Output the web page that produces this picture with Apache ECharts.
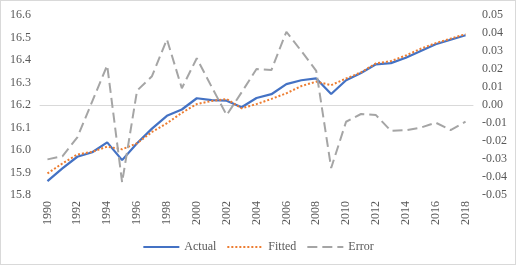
<!DOCTYPE html>
<html>
<head>
<meta charset="utf-8">
<script src="https://cdn.jsdelivr.net/npm/echarts@6/dist/echarts.min.js"></script>
<style>
  html, body { margin: 0; padding: 0; background: #fff; }
  #chart { width: 514px; height: 263px; border: 1px solid #d9d9d9; }
</style>
</head>
<body>
<div id="chart"></div>
<script>
// 年份
const years = []
for (let y = 1990; y <= 2018; y++) years.push(String(y))

// 实际值
const actual = [15.862, 15.918, 15.970, 15.990, 16.034, 15.955, 16.030, 16.095, 16.152, 16.180,
  16.230, 16.222, 16.219, 16.190, 16.231, 16.248, 16.293, 16.310, 16.318, 16.249,
  16.310, 16.342, 16.381, 16.386, 16.410, 16.440, 16.470, 16.490, 16.510]
// 拟合值
const fitted = [15.896, 15.940, 15.980, 15.992, 16.015, 16.003, 16.030, 16.080, 16.119, 16.165,
  16.204, 16.218, 16.227, 16.185, 16.204, 16.227, 16.252, 16.284, 16.304, 16.288,
  16.318, 16.345, 16.385, 16.395, 16.420, 16.450, 16.475, 16.495, 16.515]
// 误差
const errors = [-0.0302, -0.0285, -0.018, 0.002, 0.022, -0.043, 0.008, 0.016, 0.0365, 0.0093,
  0.026, 0.010, -0.0056, 0.007, 0.020, 0.0194, 0.0407, 0.030, 0.019, -0.035,
  -0.0093, -0.005, -0.0056, -0.0143, -0.014, -0.0126, -0.0098, -0.0139, -0.0093]

const font = 'Liberation Serif'
const labelColor = '#595959'

const myChart = echarts.init(document.getElementById('chart'))
myChart.setOption({
  animation: false,
  textStyle: { fontFamily: font },
  legend: {
    bottom: 6,
    left: 'center',
    itemWidth: 36,
    itemHeight: 10,
    itemGap: 10,
    itemStyle: { opacity: 0 }, // 不显示圆点
    textStyle: { color: labelColor, fontSize: 12, fontFamily: font },
    data: ['Actual', 'Fitted', 'Error']
  },
  grid: { left: 39, right: 42, top: 14, bottom: 69 },
  xAxis: {
    type: 'category',
    data: years,
    boundaryGap: true,
    axisLine: { lineStyle: { color: '#d9d9d9' } },
    axisTick: { show: false },
    axisLabel: {
      rotate: 90,
      interval: 1,
      color: labelColor,
      fontSize: 12,
      fontFamily: font,
      margin: 6
    }
  },
  yAxis: [{
    type: 'value',
    min: 15.8,
    max: 16.6,
    interval: 0.1,
    splitLine: { show: false },
    axisLine: { show: false },
    axisTick: { show: false },
    axisLabel: {
      color: labelColor, fontSize: 12, fontFamily: font, margin: 9,
      formatter: v => v.toFixed(1)
    }
  }, {
    type: 'value',
    min: -0.05,
    max: 0.05,
    interval: 0.01,
    splitLine: { show: false },
    axisLine: { show: false },
    axisTick: { show: false },
    axisLabel: {
      color: labelColor, fontSize: 12, fontFamily: font, margin: 9,
      formatter: v => v.toFixed(2)
    }
  }],
  series: [{
    name: 'Actual',
    type: 'line',
    data: actual,
    symbol: 'none',
    itemStyle: { color: '#4472C4' },
    lineStyle: { color: '#4472C4', width: 2.25 }
  }, {
    name: 'Fitted',
    type: 'line',
    data: fitted,
    symbol: 'none',
    itemStyle: { color: '#ED7D31' },
    lineStyle: { color: '#ED7D31', width: 2, type: [2, 2] }
  }, {
    name: 'Error',
    type: 'line',
    yAxisIndex: 1,
    data: errors,
    symbol: 'none',
    itemStyle: { color: '#A5A5A5' },
    lineStyle: { color: '#A5A5A5', width: 2, type: [10, 5] }
  }]
})
</script>
</body>
</html>
